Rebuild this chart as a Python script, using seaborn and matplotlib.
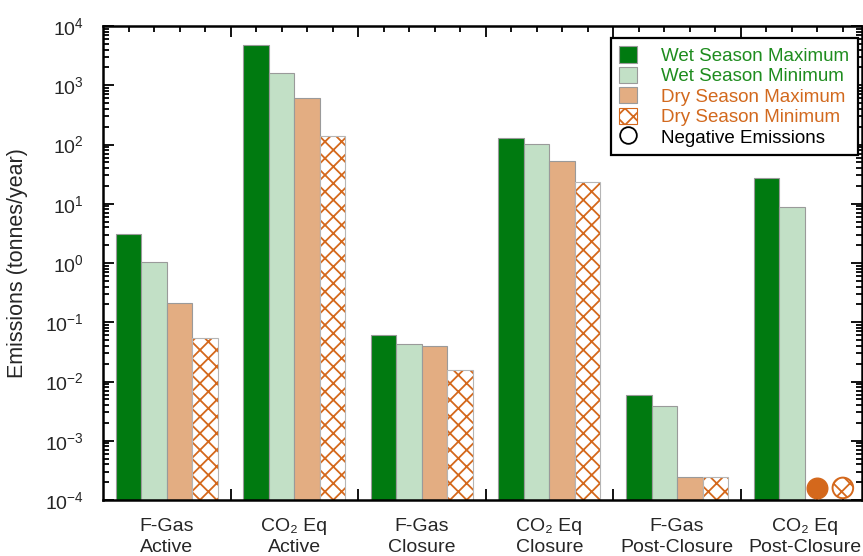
import numpy as np
import pandas as pd
import matplotlib
matplotlib.use("Agg")
import matplotlib.pyplot as plt
from matplotlib.patches import Patch, Rectangle
from matplotlib.lines import Line2D
from matplotlib.ticker import LogLocator, FixedLocator, NullFormatter
import seaborn as sns

# ---- data -------------------------------------------------------------
categories = ["F-Gas\nActive", "CO₂ Eq\nActive", "F-Gas\nClosure",
              "CO₂ Eq\nClosure", "F-Gas\nPost-Closure", "CO₂ Eq\nPost-Closure"]
series = ["Wet Season Maximum", "Wet Season Minimum",
          "Dry Season Maximum", "Dry Season Minimum"]

wet_max = [3.1, 4800, 0.0616, 127, 0.0060, 27]
wet_min = [1.05, 1600, 0.0427, 102, 0.0039, 8.9]
dry_max = [0.21, 610, 0.039, 53.4, 2.4e-4, np.nan]   # negative for CO2 Eq post-closure
dry_min = [0.054, 140, 0.0156, 23.5, 2.4e-4, np.nan]  # negative for CO2 Eq post-closure

# (category index, series index) pairs whose emissions are negative
negative = [(5, 2), (5, 3)]
ytick_values = [1e-4, 1e-3, 1e-2, 1e-1, 1e0, 1e1, 1e2, 1e3, 1e4]

# ---- styling ----------------------------------------------------------
sns.set_style("ticks")
plt.rcParams["font.family"] = ["Liberation Sans", "DejaVu Sans"]
plt.rcParams["mathtext.fontset"] = "custom"
plt.rcParams["mathtext.rm"] = "Liberation Sans"
plt.rcParams["mathtext.it"] = "Liberation Sans:italic"
plt.rcParams["mathtext.default"] = "regular"
plt.rcParams["hatch.linewidth"] = 1.3

c_wet_max = "#007A10"
c_wet_min = "#C2E0C6"
c_dry_max = "#E3AD82"
c_dry_hatch = "#D4681C"
c_edge = "#9A9A9A"
c_wet_text = "#1E8C1E"
c_dry_text = "#D2691E"
palette = [c_wet_max, c_wet_min, c_dry_max, "white"]

rows = []
for i, cat in enumerate(categories):
    for name, vals in zip(series, [wet_max, wet_min, dry_max, dry_min]):
        rows.append({"category": cat, "series": name, "value": vals[i]})
df = pd.DataFrame(rows)

fig = plt.figure(figsize=(8.63, 5.56), dpi=100)
ax = fig.add_axes([103 / 863, 1 - 500 / 556, 759 / 863, 474 / 556])

sns.barplot(data=df, x="category", y="value", hue="series",
            order=categories, hue_order=series, palette=palette,
            saturation=1, width=0.8, edgecolor=c_edge, linewidth=0.8,
            errorbar=None, legend=False, ax=ax)
ax.set_yscale("log")

# hatched dry-season minimum bars, with a grey outline on top
for p in ax.containers[3]:
    p.set_hatch("xx")
    p.set_facecolor("white")
    p.set_edgecolor(c_dry_hatch)
    p.set_linewidth(0)
    ax.add_patch(Rectangle(p.get_xy(), p.get_width(), p.get_height(),
                           fill=False, edgecolor="#B5B5B5", linewidth=0.8,
                           zorder=p.get_zorder() + 0.1))

# bar centres from the drawn bars
first_x = [p.get_x() + p.get_width() / 2 for p in ax.containers[0]]
offsets = [ax.containers[k][0].get_x() + ax.containers[k][0].get_width() / 2 - first_x[0]
           for k in range(4)]
bar_w = ax.containers[0][0].get_width()
group_centres = [x + np.mean(offsets) for x in first_x]

# negative emissions markers sitting on the axis floor
marker_level = 1.6e-4
for (ci, si) in negative:
    x = first_x[ci] + offsets[si]
    if si == 3:
        ax.scatter([x], [marker_level], s=220, facecolor="white",
                   edgecolor=c_dry_hatch, linewidth=1.4, hatch="xx",
                   zorder=5, clip_on=False)
    else:
        ax.scatter([x], [marker_level], s=220, color=c_dry_hatch,
                   edgecolor=c_dry_hatch, zorder=5, clip_on=False)

# axes limits and ticks
ax.set_ylim(1e-4, 1e4)
ax.set_xlim(first_x[0] + offsets[0] - bar_w, first_x[-1] + offsets[3] + 0.75 * bar_w)
ax.yaxis.set_major_locator(FixedLocator(ytick_values))
ax.yaxis.set_minor_locator(LogLocator(base=10, subs=np.arange(2, 10), numticks=20))
ax.yaxis.set_minor_formatter(NullFormatter())

gap_ticks = [g + offsets[3] + bar_w for g in first_x[:-1]]
bar_ticks = [g + o for g in first_x for o in offsets] + [first_x[-1] + offsets[3] + bar_w]
ax.xaxis.set_major_locator(FixedLocator(gap_ticks))
ax.xaxis.set_minor_locator(FixedLocator(bar_ticks))
ax.xaxis.set_major_formatter(NullFormatter())
ax.xaxis.set_minor_formatter(NullFormatter())

ax.tick_params(axis="both", which="both", direction="in", top=True, right=True,
               color="black", width=1.3)
ax.tick_params(axis="y", which="major", length=8, labelsize=14, pad=14)
ax.tick_params(axis="y", which="minor", length=4)
ax.tick_params(axis="x", which="major", length=8)
ax.tick_params(axis="x", which="minor", length=4.5)

# category labels under each group
sec = ax.secondary_xaxis("bottom")
sec.set_xticks(group_centres)
sec.set_xticklabels(categories, fontsize=14, linespacing=1.3,
                    ha="center", multialignment="center")
sec.tick_params(length=0, pad=13)
sec.spines["bottom"].set_visible(False)

for side in ["left", "right", "top", "bottom"]:
    ax.spines[side].set_linewidth(1.8)
    ax.spines[side].set_color("black")

ax.set_xlabel("")
ax.set_ylabel("Emissions (tonnes/year)", fontsize=15.5, labelpad=12)

# legend
handles = [
    Patch(facecolor=c_wet_max, edgecolor=c_edge, linewidth=0.8),
    Patch(facecolor=c_wet_min, edgecolor=c_edge, linewidth=0.8),
    Patch(facecolor=c_dry_max, edgecolor=c_edge, linewidth=0.8),
    Patch(facecolor="white", edgecolor=c_dry_hatch, hatch="xx", linewidth=0.8),
    Line2D([], [], linestyle="none", marker="o", markersize=12,
           markerfacecolor="white", markeredgecolor="black", markeredgewidth=1.3),
]
labels = series + ["Negative Emissions"]
leg = ax.legend(handles, labels, loc="upper right",
                bbox_to_anchor=(0.9947, 0.9747), borderaxespad=0,
                fontsize=13.5, frameon=True, fancybox=False, framealpha=1,
                handlelength=0.95, handleheight=0.95, handletextpad=1.3,
                labelspacing=0.1, borderpad=0.45)
leg.get_frame().set_edgecolor("black")
leg.get_frame().set_linewidth(1.6)
for txt, col in zip(leg.get_texts(),
                    [c_wet_text, c_wet_text, c_dry_text, c_dry_text, "black"]):
    txt.set_color(col)

fig.savefig("out.png", dpi=100)
